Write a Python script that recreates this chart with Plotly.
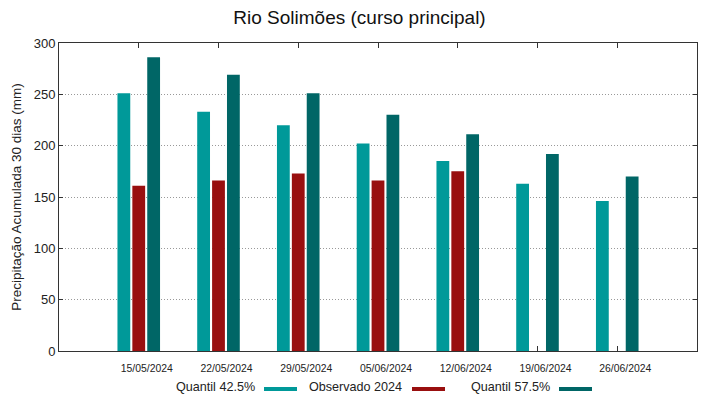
import plotly.graph_objects as go

dates = ["15/05/2024", "22/05/2024", "29/05/2024", "05/06/2024", "12/06/2024", "19/06/2024", "26/06/2024"]
q425 = [251, 233, 220, 202, 185, 163, 146]
obs2024 = [161, 166, 173, 166, 175, None, None]
q575 = [286, 269, 251, 230, 211, 192, 170]
y_ticks = [0, 50, 100, 150, 200, 250, 300]

names = ["Quantil 42.5%", "Observado 2024", "Quantil 57.5%"]
colors = ["#009999", "#990f0f", "#006666"]
series = [q425, obs2024, q575]

fig = go.Figure()
for name, vals, col in zip(names, series, colors):
    fig.add_trace(go.Bar(x=list(range(len(dates))), y=vals, name=name,
                         marker=dict(color=col, line=dict(width=0)),
                         showlegend=False, hoverinfo="skip"))

font = "Liberation Sans, Arial, sans-serif"
L, R, T, B = 59, 22, 43, 48
W, H = 719, 399
fig.update_layout(
    width=W, height=H,
    margin=dict(l=L, r=R, t=T, b=B, autoexpand=False),
    paper_bgcolor="white", plot_bgcolor="white",
    barmode="group", bargap=0.44, bargroupgap=0.14,
    font=dict(family=font, color="#222"),
    title=dict(text="Rio Solimões (curso principal)", x=0.5, xanchor="center",
               y=1 - 17.5 / H, yanchor="middle", font=dict(size=19, family=font, color="#111")),
)
fig.update_xaxes(range=[-1, 7], tickvals=list(range(len(dates))), ticktext=dates,
                 tickfont=dict(size=10.4, color="#222"), ticks="inside", ticklen=5, tickcolor="#333",
                 ticklabelshift=8, ticklabelstandoff=8,
                 showline=True, linecolor="#333", linewidth=1, mirror="ticks",
                 showgrid=False, zeroline=False, layer="below traces", automargin=False)
fig.update_yaxes(range=[0, 300], tickvals=y_ticks, tickfont=dict(size=13, color="#222"),
                 ticks="inside", ticklen=4, tickcolor="#333",
                 showline=True, linecolor="#333", linewidth=1, mirror="ticks",
                 showgrid=True, gridcolor="#999", griddash="1px,2px", gridwidth=1,
                 zeroline=False, layer="below traces", automargin=False,
                 title=dict(text="Precipitação Acumulada 30 dias (mm)", font=dict(size=13.5, color="#222"), standoff=8))

# custom legend: text followed by colour swatch
leg_text_right = [257, 404, 552]
leg_sw = [(264, 297), (412, 445), (559, 592)]
legend_y = 387
pw = W - L - R
ph = H - T - B
for name, col, tx, (s0, s1) in zip(names, colors, leg_text_right, leg_sw):
    fig.add_annotation(text=name, xref="paper", yref="paper",
                       x=(tx - L) / pw, y=1 - (legend_y - T) / ph,
                       xanchor="right", yanchor="middle", showarrow=False,
                       font=dict(size=12.6, family=font, color="#222"))
    fig.add_shape(type="rect", xref="paper", yref="paper",
                  x0=(s0 - L) / pw, x1=(s1 - L) / pw,
                  y0=1 - (391 - T) / ph,
                  y1=1 - (387 - T) / ph,
                  fillcolor=col, line=dict(width=0))

fig.write_html("out.html", config={"displayModeBar": False},
               post_script="document.body.style.margin='0';document.body.style.overflow='hidden';")
